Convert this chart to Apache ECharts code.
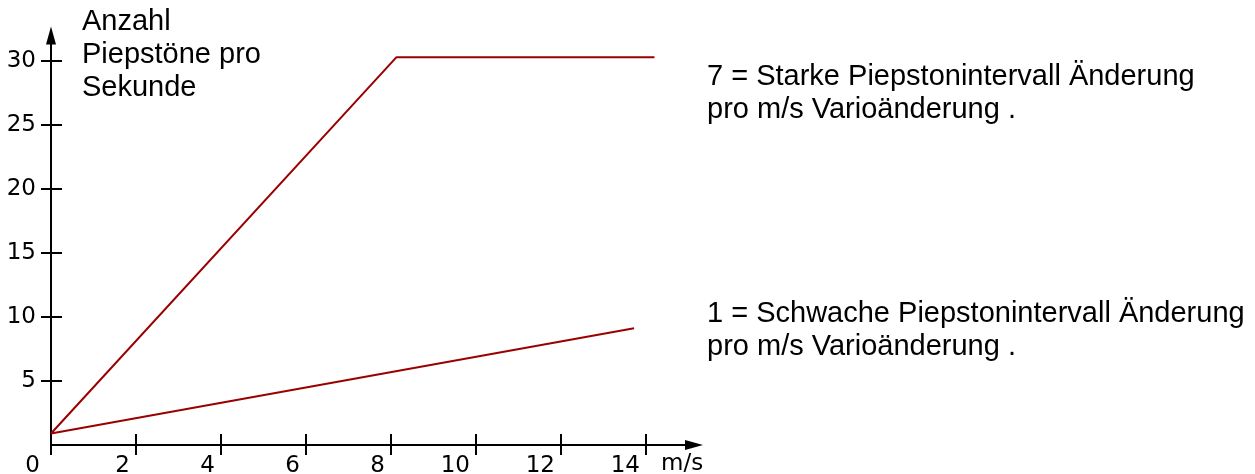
<!DOCTYPE html>
<html><head><meta charset="utf-8">
<script src="https://cdn.jsdelivr.net/npm/echarts@6/dist/echarts.min.js"></script>
<style>html,body{margin:0;padding:0;background:#fff}#c{width:1255px;height:474px}</style>
</head><body><div id="c"></div>
<script>
const strongX = [0, 8.13, 14.2];
const strongY = [0.9, 30.3, 30.3];
const weakX = [0, 13.72];
const weakY = [0.9, 9.12];
const xTicks = [0, 2, 4, 6, 8, 10, 12, 14];
const yTicks = [5, 10, 15, 20, 25, 30];
const yTitle = 'Anzahl\nPiepstöne pro\nSekunde';
const xTitle = 'm/s';
const note7 = '7 = Starke Piepstonintervall Änderung\npro m/s Varioänderung .';
const note1 = '1 = Schwache Piepstonintervall Änderung\npro m/s Varioänderung .';

const X_MAX = 15.13, Y_MAX = 32;
const zip = (a, b) => a.map((v, i) => [v, b[i]]);
const tickFont = { fontFamily: 'DejaVu Sans', fontSize: 23, color: '#000' };
const textFont = { fontFamily: 'Liberation Sans', fontSize: 29, lineHeight: 33, fill: '#000' };
const axisLineStyle = { color: '#000', width: 2 };

const chart = echarts.init(document.getElementById('c'), null, { renderer: 'canvas' });
chart.setOption({
  animation: false,
  backgroundColor: '#fff',
  grid: { left: 51, top: 35.4, width: 643, height: 409.6, containLabel: false, outerBoundsMode: 'none' },
  xAxis: [
    {
      type: 'value', min: 0, max: X_MAX, position: 'bottom',
      axisLine: { show: true, onZero: false, lineStyle: axisLineStyle, symbol: ['none', 'triangle'], symbolSize: [10, 18] },
      axisTick: { show: true, inside: false, length: 10, customValues: xTicks, lineStyle: axisLineStyle },
      axisLabel: Object.assign({
        show: true, customValues: xTicks, align: 'right', padding: [0, 6, 0, 0], margin: 10,
        formatter: v => v === 0 ? '{z|0}' : String(v),
        rich: { z: Object.assign({ padding: [0, 5, 0, 0] }, tickFont) }
      }, tickFont),
      splitLine: { show: false }
    },
    {
      type: 'value', min: 0, max: X_MAX, position: 'bottom',
      axisLine: { show: false, onZero: false },
      axisTick: { show: true, inside: true, length: 11, customValues: xTicks, lineStyle: axisLineStyle },
      axisLabel: { show: false },
      splitLine: { show: false }
    }
  ],
  yAxis: [
    {
      type: 'value', min: 0, max: Y_MAX, position: 'left',
      axisLine: { show: true, onZero: false, lineStyle: axisLineStyle, symbol: ['none', 'triangle'], symbolSize: [10, 18] },
      axisTick: { show: true, inside: false, length: 10, customValues: yTicks, lineStyle: axisLineStyle },
      axisLabel: Object.assign({ show: true, customValues: yTicks, margin: 15 }, tickFont),
      splitLine: { show: false }
    },
    {
      type: 'value', min: 0, max: Y_MAX, position: 'left',
      axisLine: { show: false, onZero: false },
      axisTick: { show: true, inside: true, length: 11, customValues: yTicks, lineStyle: axisLineStyle },
      axisLabel: { show: false },
      splitLine: { show: false }
    }
  ],
  series: [
    { type: 'line', name: '7', data: zip(strongX, strongY), symbol: 'none', xAxisIndex: 0, yAxisIndex: 0,
      lineStyle: { color: '#9a0000', width: 2 } },
    { type: 'line', name: '1', data: zip(weakX, weakY), symbol: 'none', xAxisIndex: 0, yAxisIndex: 0,
      lineStyle: { color: '#9a0000', width: 2 } }
  ],
  graphic: [
    { type: 'text', left: 82, top: 5, style: Object.assign({ text: yTitle }, textFont) },
    { type: 'text', left: 707, top: 60, style: Object.assign({ text: note7 }, textFont) },
    { type: 'text', left: 707, top: 297, style: Object.assign({ text: note1 }, textFont) },
    { type: 'text', left: 661, top: 453, style: { text: xTitle, fontFamily: 'DejaVu Sans', fontSize: 23, fill: '#000' } }
  ]
});
</script>
</body></html>
